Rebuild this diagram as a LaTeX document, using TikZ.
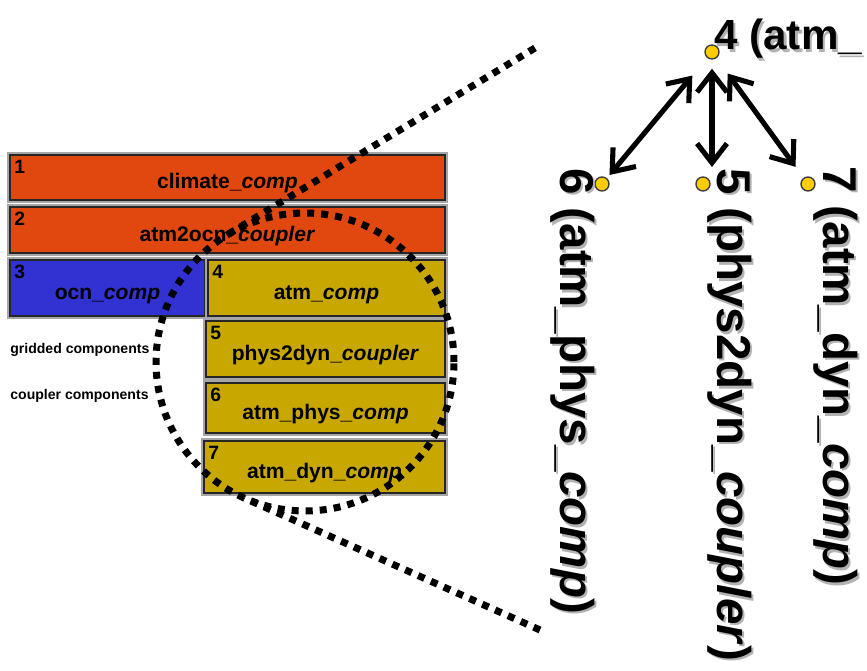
\documentclass[tikz,border=0pt]{standalone}
\usepackage{fontspec}
\setmainfont{Liberation Sans}
\usetikzlibrary{arrows.meta, calc, positioning}
\definecolor{climred}{RGB}{224, 72, 16}
\definecolor{ocnblue}{RGB}{50, 50, 210}
\definecolor{atmgold}{RGB}{200, 168, 0}
\definecolor{dotyellow}{RGB}{255, 204, 0}

\begin{document}
\begin{tikzpicture}[x=0.02cm, y=-0.02cm,
  compbox/.style={draw=black!85, line width=0.9pt, preaction={draw=gray!70, line width=3.6pt}, anchor=north west, inner sep=0pt, outer sep=0pt, text height=16pt, text depth=3pt, font=\fontsize{12}{14}\selectfont\bfseries},
  numtag/.style={anchor=north west, inner sep=0pt, font=\fontsize{11}{13}\selectfont\bfseries},
  sidenote/.style={anchor=base west, inner sep=0pt, font=\fontsize{8}{10}\selectfont\bfseries},
  lensdots/.style={line width=4pt, dash pattern=on 4pt off 4pt},
  ydot/.style={circle, draw=black!75, line width=0.8pt, fill=dotyellow, minimum size=0.28cm, inner sep=0pt},
  link/.style={line width=2.9pt, line join=round, line cap=round, {Straight Barb[length=11pt,width=17pt]}-{Straight Barb[length=11pt,width=17pt]}},
  bigtag/.style={inner sep=0pt, anchor=base west, font=\fontsize{27}{30}\selectfont\bfseries},
  bigshadow/.style={bigtag, text=black!30}
]
  \useasboundingbox (0,0) rectangle (867,671);

  % Component boxes
  \node[compbox, fill=climred, minimum width=8.7cm, minimum height=0.9cm] (climate) at (10,155) {climate\_\textit{comp}};
  \node[compbox, fill=climred, minimum width=8.7cm, minimum height=0.92cm] (a2o) at (10,207) {atm2ocn\_\textit{coupler}};
  \node[compbox, fill=ocnblue, minimum width=3.9cm, minimum height=1.12cm] (ocn) at (10,260) {ocn\_\textit{comp}};
  \node[compbox, fill=atmgold, minimum width=4.74cm, minimum height=1.12cm] (atm) at (208,260) {atm\_\textit{comp}};
  \node[compbox, fill=atmgold, minimum width=4.78cm, minimum height=1.12cm] (p2d) at (206,321) {phys2dyn\_\textit{coupler}};
  \node[compbox, fill=atmgold, minimum width=4.78cm, minimum height=1.0cm] (phys) at (206,383) {atm\_phys\_\textit{comp}};
  \node[compbox, fill=atmgold, minimum width=4.82cm, minimum height=1.04cm] (dyn) at (204,441) {atm\_dyn\_\textit{comp}};

  % Numbers
  \node[numtag] (num1) at ($(climate.north west)+(4,5)$) {1};
  \node[numtag] (num2) at ($(a2o.north west)+(4,5)$) {2};
  \node[numtag] (num3) at ($(ocn.north west)+(4,5)$) {3};
  \node[numtag] (num4) at ($(atm.north west)+(4,5)$) {4};
  \node[numtag] (num5) at ($(p2d.north west)+(4,5)$) {5};
  \node[numtag] (num6) at ($(phys.north west)+(4,5)$) {6};
  \node[numtag] (num7) at ($(dyn.north west)+(4,5)$) {7};

  \node[sidenote] (grid) at (10,354) {gridded components};
  \node[sidenote] (cpl) at (10,400) {coupler components};

  % Zoom lens
  \node[circle, draw, lensdots, minimum size=5.96cm, inner sep=0pt, outer sep=0pt] (lens) at (305,362) {};
  \coordinate (zoomtop) at (535,48);
  \coordinate (zoombot) at (540,630);
  \coordinate (tantop) at (227.6,234.6);
  \coordinate (tanbot) at (244.3,498.0);
  \draw[lensdots] (zoomtop) -- (tantop);
  \draw[lensdots] (zoombot) -- (tanbot);

  % Tree
  \node[ydot] (d4) at (712,52) {};
  \node[ydot] (d6) at (602,184) {};
  \node[ydot] (d5) at (703,184) {};
  \node[ydot] (d7) at (808,184) {};

  \draw[link, shorten <=0.46cm, shorten >=0.08cm] (d4) -- (d6);
  \draw[link, shorten <=0.18cm, shorten >=0.34cm] (d4) -- (d4 |- d5);
  \draw[link, shorten <=0.38cm, shorten >=0.27cm] (d4) -- (d7);

  \node[bigshadow, font=\fontsize{24}{28}\selectfont\bfseries] (t4s) at (716.5,52.5) {4 (atm\_};
  \node[bigtag, font=\fontsize{24}{28}\selectfont\bfseries] (t4) at (714,50) {4 (atm\_};

  \node[bigshadow, rotate=-90] (t6s) at (562.5,170.5) {6 (atm\_phys\_\textit{comp})};
  \node[bigtag, rotate=-90] (t6) at (560,168) {6 (atm\_phys\_\textit{comp})};
  \node[bigshadow, rotate=-90] (t5s) at (719.5,170.5) {5 (phys2dyn\_\textit{coupler})};
  \node[bigtag, rotate=-90] (t5) at (717,168) {5 (phys2dyn\_\textit{coupler})};
  \node[bigshadow, rotate=-90] (t7s) at (825.5,168.5) {7 (atm\_dyn\_\textit{comp})};
  \node[bigtag, rotate=-90] (t7) at (823,166) {7 (atm\_dyn\_\textit{comp})};
\end{tikzpicture}
\end{document}
